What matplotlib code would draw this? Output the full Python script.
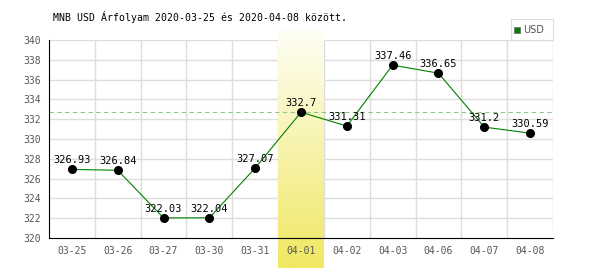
import numpy as np
import matplotlib
matplotlib.use('Agg')
from matplotlib import pyplot as plt
from matplotlib.colors import LinearSegmentedColormap

dates = ['03-25', '03-26', '03-27', '03-30', '03-31', '04-01',
         '04-02', '04-03', '04-06', '04-07', '04-08']
rates = [326.93, 326.84, 322.03, 322.04, 327.07, 332.7,
         331.31, 337.46, 336.65, 331.2, 330.59]
labels = ['326.93', '326.84', '322.03', '322.04', '327.07', '332.7',
          '331.31', '337.46', '336.65', '331.2', '330.59']
highlight = 5
title = 'MNB USD Árfolyam 2020-03-25 és 2020-04-08 között.'

mono = 'DejaVu Sans Mono'

fig = plt.figure(figsize=(6, 2.7), dpi=100)
ax = fig.add_axes([49/600, 1-238/270, 504/600, 198/270])

x = np.arange(len(dates))

for i in range(1, len(dates)+1):
    ax.axvline(i-0.5, color='#dddddd', lw=1, zorder=1)
for yv in range(322, 341, 2):
    ax.axhline(yv, color='#dddddd', lw=1, zorder=1)

# gradient band over the highlighted day
cmap = LinearSegmentedColormap.from_list('hl', ['#fefef6', '#f0e862'])
grad = np.linspace(0, 1, 100).reshape(-1, 1)
ax.imshow(grad, cmap=cmap, aspect='auto', origin='upper',
          extent=[highlight-0.5, highlight+0.5, 316.97, 341.0],
          clip_on=False, zorder=1.5)

ax.axhline(rates[highlight], color='#88cc88', lw=0.8, ls=(0, (4, 3)), zorder=2)

ax.plot(x, rates, color='#008000', lw=0.8, zorder=3)
ax.plot(x, rates, 'o', color='black', ms=5.5, zorder=4)
for xi, yi, t in zip(x, rates, labels):
    ax.annotate(t, (xi, yi), xytext=(0, 3), textcoords='offset points',
                ha='center', va='bottom', fontsize=7.5, family=mono, zorder=5)

ax.set_xlim(-0.5, len(dates)-0.5)
ax.set_ylim(320, 340)
ax.set_xticks(x)
ax.set_xticklabels(dates)
ax.set_yticks(range(320, 341, 2))
ax.tick_params(length=0, labelsize=7, colors='#555555', pad=6)
for lab in ax.get_xticklabels() + ax.get_yticklabels():
    lab.set_family(mono)
ax.spines['top'].set_visible(False)
ax.spines['right'].set_visible(False)
ax.spines['left'].set_color('black')
ax.spines['bottom'].set_color('black')
ax.set_facecolor('none')

fig.text(53/600, 1-17/270, title, fontsize=7.1, family=mono, va='center', ha='left')

# legend box
lax = fig.add_axes([511/600, 1-40/270, 42/600, 21/270])
lax.set_xlim(0, 42)
lax.set_ylim(0, 21)
lax.set_xticks([])
lax.set_yticks([])
for s in lax.spines.values():
    s.set_color('#dddddd')
lax.add_patch(plt.Rectangle((3, 7), 6, 6, facecolor='#008000', edgecolor='#666666', lw=0.5))
lax.text(12, 10, 'USD', fontsize=7, color='#555555', va='center', ha='left')

fig.savefig('out.png', dpi=100)
